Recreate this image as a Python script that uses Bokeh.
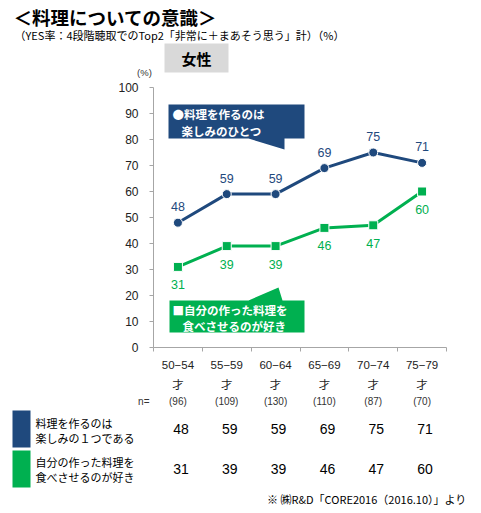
from bokeh.plotting import figure
from bokeh.models import (Range1d, FixedTicker, Label, LabelSet, ColumnDataSource,
                          PolyAnnotation, LinearAxis)
from bokeh.core.properties import value
from bokeh.embed import file_html
from bokeh.resources import INLINE

# ---------------- data ----------------
ages = ["50−54", "55−59", "60−64", "65−69", "70−74", "75−79"]
age_unit = "才"
sample_n = [96, 109, 130, 110, 87, 70]
enjoy_cooking = [48, 59, 59, 69, 75, 71]
like_feeding = [31, 39, 39, 46, 47, 60]
y_ticks = [0, 10, 20, 30, 40, 50, 60, 70, 80, 90, 100]

title_text = "＜料理についての意識＞"
subtitle_text = "（YES率：4段階聴取でのTop2「非常に＋まあそう思う」計）（%）"
panel_text = "女性"
unit_text = "(%)"
callout_blue = ["●料理を作るのは", "楽しみのひとつ"]
callout_green = ["■自分の作った料理を", "食べさせるのが好き"]
row_blue = ["料理を作るのは", "楽しみの１つである"]
row_green = ["自分の作った料理を", "食べさせるのが好き"]
footnote_text = "※ ㈱R&D「CORE2016（2016.10）」より"

BLUE = "#1F497D"
GREEN = "#00B050"
JP = "Noto Sans CJK JP"
NUM = "Liberation Sans"

W, H = 481, 513
# chart area on the canvas: x 153..446, y(100)=87 .. y(0)=347
PX_LEFT, PX_RIGHT, PY_TOP, PY_BOTTOM = 153, 446, 87, 347
ncat = len(ages)
ux = (PX_RIGHT - PX_LEFT) / ncat
uy = (PY_BOTTOM - PY_TOP) / 100.0
x_range = Range1d(-PX_LEFT / ux, ncat + (W - PX_RIGHT) / ux)
y_range = Range1d(-(H - PY_BOTTOM) / uy, 100 + PY_TOP / uy)

def sx(px):
    return px

def sy(py):
    return H - py

xs = [i + 0.5 for i in range(ncat)]

p = figure(width=W, height=H, output_backend="svg", toolbar_location=None,
           x_range=x_range, y_range=y_range, x_axis_type=None, y_axis_type=None,
           min_border=0)
p.min_border_left = p.min_border_right = p.min_border_top = p.min_border_bottom = 0
p.outline_line_color = None
p.background_fill_color = "white"
p.border_fill_color = "white"

yaxis = LinearAxis(ticker=FixedTicker(ticks=y_ticks, minor_ticks=[]), fixed_location=0, bounds=(0, 100),
                   major_tick_out=4, major_tick_in=0, minor_tick_out=0, minor_tick_in=0,
                   axis_line_color="#a6a6a6", major_tick_line_color="#a6a6a6",
                   major_label_text_font=NUM, major_label_text_font_size="12px",
                   major_label_text_color="#222222", major_label_standoff=11)
p.add_layout(yaxis, "left")

xaxis = LinearAxis(ticker=FixedTicker(ticks=xs, minor_ticks=list(range(ncat + 1))),
                   fixed_location=0, bounds=(0, ncat),
                   major_tick_out=0, major_tick_in=0, minor_tick_out=4, minor_tick_in=0,
                   axis_line_color="#a6a6a6", minor_tick_line_color="#a6a6a6",
                   major_label_overrides={x: a for x, a in zip(xs, ages)},
                   major_label_text_font=NUM, major_label_text_font_size="11.5px",
                   major_label_text_color="#222222", major_label_standoff=9)
p.add_layout(xaxis, "below")

src = ColumnDataSource(dict(x=xs, enjoy=enjoy_cooking, feed=like_feeding,
                            enjoy_t=[str(v) for v in enjoy_cooking],
                            feed_t=[str(v) for v in like_feeding]))

p.line("x", "enjoy", source=src, line_color=BLUE, line_width=3)
p.scatter("x", "enjoy", source=src, marker="circle", size=9, fill_color=BLUE, line_color="white", line_width=1)
p.line("x", "feed", source=src, line_color=GREEN, line_width=3)
p.scatter("x", "feed", source=src, marker="square", size=9, fill_color=GREEN, line_color="white", line_width=1)

p.add_layout(LabelSet(x="x", y="enjoy", text="enjoy_t", source=src, y_offset=16,
                      text_align="center", text_baseline="middle", text_color=BLUE,
                      text_font=value(NUM), text_font_size="12.5px"))
p.add_layout(LabelSet(x="x", y="feed", text="feed_t", source=src, y_offset=-18,
                      text_align="center", text_baseline="middle", text_color=GREEN,
                      text_font=value(NUM), text_font_size="12.5px"))

def lab(text, px, py, size, font=JP, align="left", color="black", style="normal"):
    p.add_layout(Label(x=sx(px), y=sy(py), x_units="screen", y_units="screen", text=text,
                       text_align=align, text_baseline="middle", text_font=font,
                       text_font_size=size, text_color=color, text_font_style=style))

def poly(pts, color):
    p.add_layout(PolyAnnotation(xs=[sx(a) for a, b in pts], ys=[sy(b) for a, b in pts],
                                xs_units="screen", ys_units="screen",
                                fill_color=color, fill_alpha=1.0, line_color=None))

# titles
lab(title_text, 13, 16, "18.5px", style="bold")
lab(subtitle_text, 14, 34, "11px")
poly([(164, 43), (228, 43), (228, 72), (164, 72)], "#D9D9D9")
lab(panel_text, 196, 58, "15px", align="center", style="bold")
lab(unit_text, 144, 72, "9.5px", font=NUM, align="center", color="#333333")

# callouts
poly([(168, 104), (304, 104), (304, 138), (284, 138), (284, 149), (248, 138), (168, 138)], BLUE)
lab(callout_blue[0], 172, 113, "11.5px", color="white", style="bold")
lab(callout_blue[1], 181, 130, "11.5px", color="white", style="bold")
poly([(169, 300), (248, 300), (278, 287), (282, 300), (304, 300), (304, 332), (169, 332)], GREEN)
lab(callout_green[0], 172, 309, "11.5px", color="white", style="bold")
lab(callout_green[1], 182, 325, "11.5px", color="white", style="bold")

# age unit line and sample sizes
for x, n in zip(xs, sample_n):
    p.add_layout(Label(x=x, y=sy(383), y_units="screen", text=age_unit, text_align="center",
                       text_baseline="middle", text_font=JP, text_font_size="11.5px",
                       text_color="#222222"))
    p.add_layout(Label(x=x, y=sy(401), y_units="screen", text="(%d)" % n, text_align="center",
                       text_baseline="middle", text_font=NUM, text_font_size="10px",
                       text_color="#333333"))
lab("n=", 149, 401, "10px", font=NUM, align="right", color="#333333")

# table
poly([(12, 410), (30, 410), (30, 447), (12, 447)], BLUE)
poly([(12, 450), (30, 450), (30, 487), (12, 487)], GREEN)
lab(row_blue[0], 35, 422, "11px")
lab(row_blue[1], 35, 437, "11px")
lab(row_green[0], 35, 461, "11px")
lab(row_green[1], 35, 476, "11px")
for x, a, b in zip(xs, enjoy_cooking, like_feeding):
    p.add_layout(Label(x=x, y=sy(428), y_units="screen", x_offset=3, text=str(a), text_align="center",
                       text_baseline="middle", text_font=NUM, text_font_size="14px",
                       text_color="black"))
    p.add_layout(Label(x=x, y=sy(468), y_units="screen", x_offset=3, text=str(b), text_align="center",
                       text_baseline="middle", text_font=NUM, text_font_size="14px",
                       text_color="black"))

lab(footnote_text, 466, 498, "11px", align="right")

open("out.html", "w").write(file_html(p, INLINE))
